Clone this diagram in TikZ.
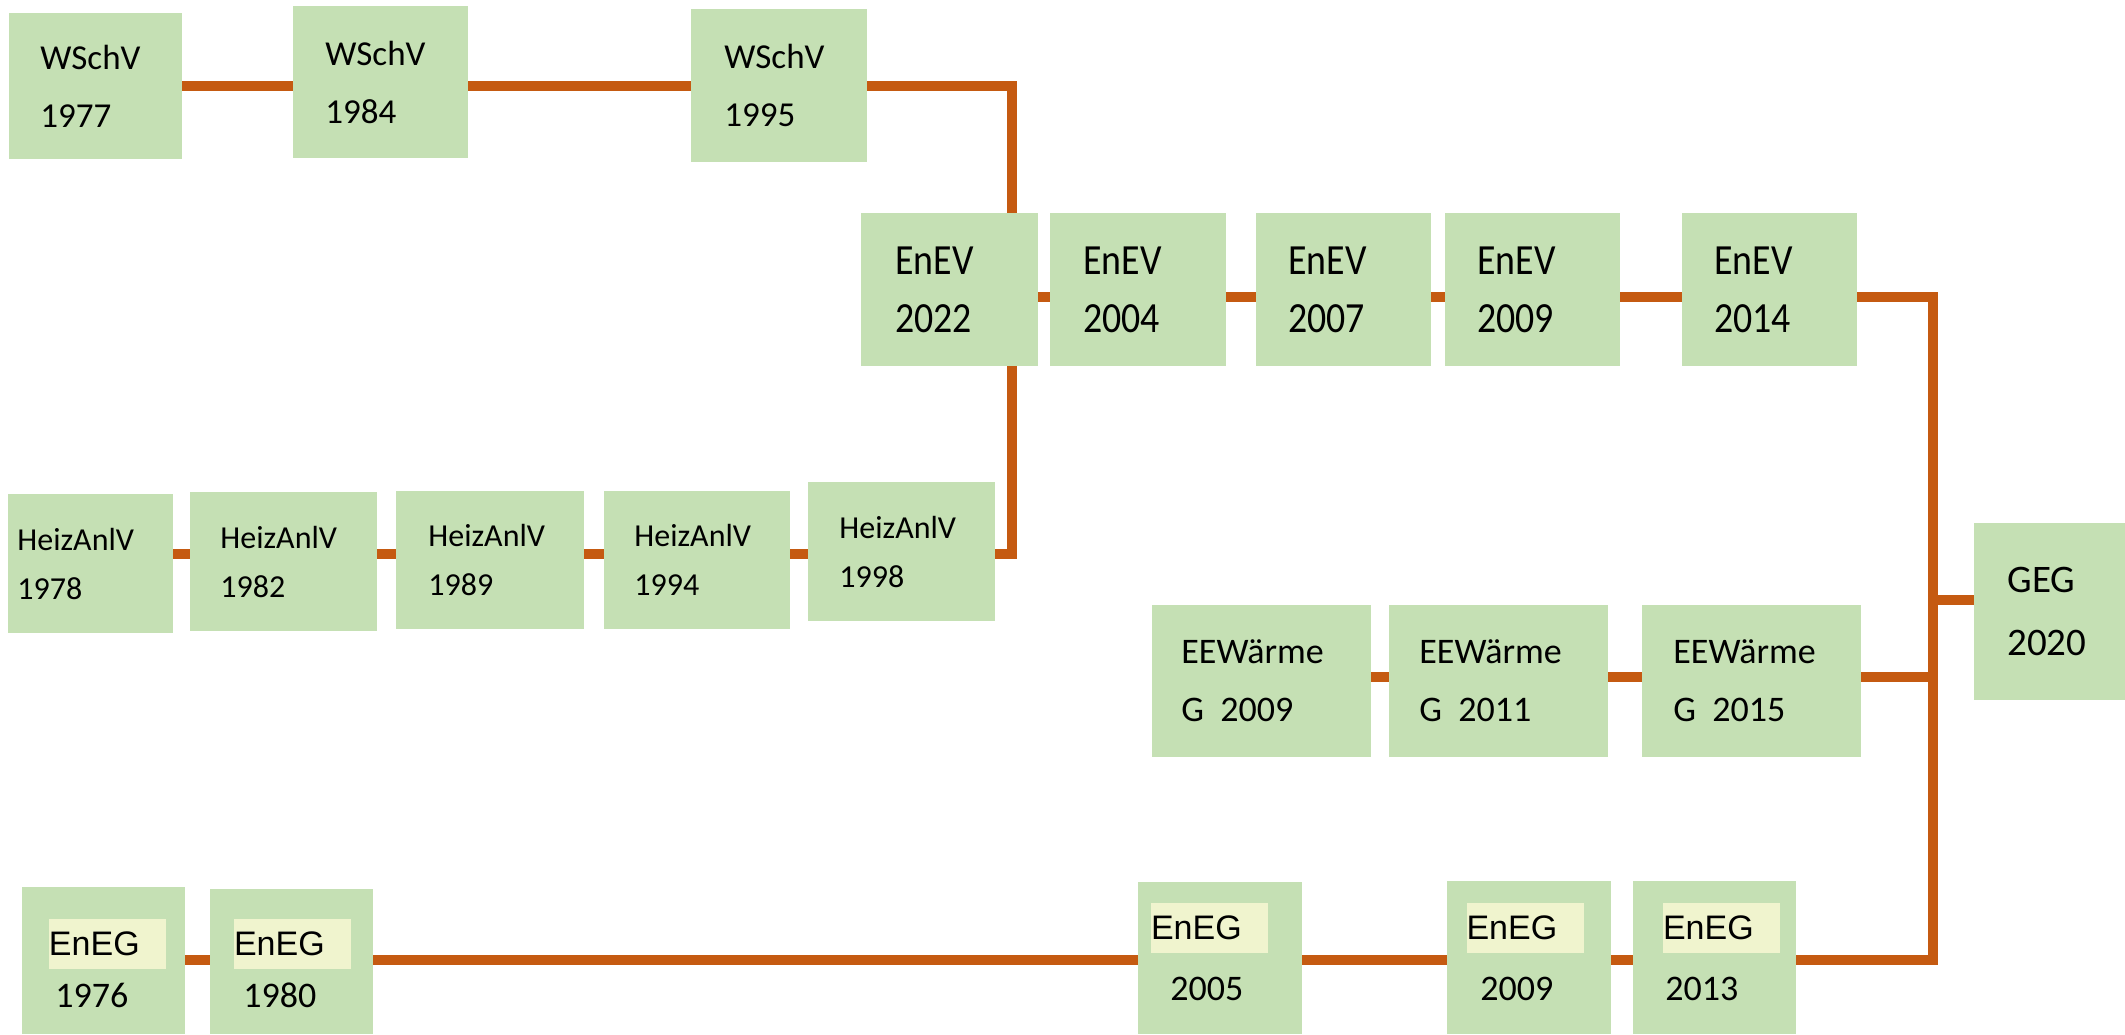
\documentclass[tikz,border=0pt]{standalone}
\usepackage{fontspec}
\setmainfont{Carlito}
\newfontfamily\arialf{Liberation Sans}
\newfontfamily\narrowf[FakeStretch=0.88]{Carlito}
\usetikzlibrary{calc}
\definecolor{boxgreen}{HTML}{C5E0B4}
\definecolor{linkor}{HTML}{C55A11}
\definecolor{hlyel}{HTML}{F0F4CE}
\pgfdeclarelayer{bg}
\pgfsetlayers{bg,main}
\tikzset{
  gbox/.style={draw=none, fill=boxgreen, inner sep=0, outer sep=0},
  link/.style={draw=linkor, line width=5bp, line join=miter},
  wt/.style={font=\fontsize{17.5bp}{29bp}\selectfont, align=left, inner sep=0},
  et/.style={font=\narrowf\fontsize{21.5bp}{29bp}\selectfont, align=left, inner sep=0},
  ht/.style={font=\fontsize{16bp}{24.5bp}\selectfont, align=left, inner sep=0},
  gt/.style={font=\fontsize{18bp}{29bp}\selectfont, align=left, inner sep=0},
  get/.style={font=\fontsize{19.5bp}{31.5bp}\selectfont, align=left, inner sep=0},
  hlbox/.style={fill=hlyel, inner xsep=0, inner ysep=0, text width=58.5bp, minimum height=25bp, align=left, font=\arialf\fontsize{17bp}{20bp}\selectfont},
  yt/.style={font=\fontsize{18bp}{20bp}\selectfont, inner sep=0, anchor=west}
}
% box: name, x1, y1, x2, y2
\newcommand\gbx[5]{\node[gbox, minimum width={(#4-#2)*0.5bp}, minimum height={(#5-#3)*0.5bp}] (#1) at ({(#2+#4)/2},{(#3+#5)/2}) {};}
% text: box name, style, inset, text
\newcommand\gtx[4]{\node[#2, anchor=west] (#1-t) at ([xshift={#3*0.5bp}]#1.west) {#4};}
% highlight: name, x1, y1, x2, y2
\newcommand\hlb[5]{\node[hlbox, minimum height={(#5-#3)*0.5bp}] (#1) at ({(#2+#4)/2},{(#3+#5)/2}) {EnEG};}
\begin{document}
\begin{tikzpicture}[x=0.5bp, y=-0.5bp]
\useasboundingbox (0,0) rectangle (2125,1034);
% row coordinates
\coordinate (r1) at (0,86);
\coordinate (r2) at (0,297);
\coordinate (r3) at (0,554);
\coordinate (rg) at (0,600);
\coordinate (r4) at (0,677);
\coordinate (r5) at (0,960);
\coordinate (jl) at (1012,554);
\coordinate (jrt) at (1933,297);
\coordinate (jrb) at (1933,960);
% WSchV
\gbx{w77}{9}{13}{182}{159}
\gbx{w84}{293}{6}{468}{158}
\gbx{w95}{691}{9}{867}{162}
\gtx{w77}{wt}{31}{WSchV\\1977}
\gtx{w84}{wt}{32}{WSchV\\1984}
\gtx{w95}{wt}{33}{WSchV\\1995}
% EnEV
\gbx{e22}{861}{213}{1038}{366}
\gbx{e04}{1050}{213}{1226}{366}
\gbx{e07}{1256}{213}{1431}{366}
\gbx{e09}{1445}{213}{1620}{366}
\gbx{e14}{1682}{213}{1857}{366}
\gtx{e22}{et}{34}{EnEV\\2022}
\gtx{e04}{et}{33}{EnEV\\2004}
\gtx{e07}{et}{32}{EnEV\\2007}
\gtx{e09}{et}{32}{EnEV\\2009}
\gtx{e14}{et}{32}{EnEV\\2014}
% HeizAnlV
\gbx{h78}{8}{494}{173}{633}
\gbx{h82}{190}{492}{377}{631}
\gbx{h89}{396}{491}{584}{629}
\gbx{h94}{604}{491}{790}{629}
\gbx{h98}{808}{482}{995}{621}
\gtx{h78}{ht}{9}{HeizAnlV\\1978}
\gtx{h82}{ht}{30}{HeizAnlV\\1982}
\gtx{h89}{ht}{32}{HeizAnlV\\1989}
\gtx{h94}{ht}{30}{HeizAnlV\\1994}
\gtx{h98}{ht}{31}{HeizAnlV\\1998}
% EEWaermeG
\gbx{g09}{1152}{605}{1371}{757}
\gbx{g11}{1389}{605}{1608}{757}
\gbx{g15}{1642}{605}{1861}{757}
\gtx{g09}{gt}{29}{EEWärme\\G\ \ 2009}
\gtx{g11}{gt}{30}{EEWärme\\G\ \ 2011}
\gtx{g15}{gt}{31}{EEWärme\\G\ \ 2015}
% GEG
\gbx{geg}{1974}{523}{2125}{700}
\gtx{geg}{get}{33}{GEG\\2020}
% EnEG
\gbx{n76}{22}{887}{185}{1034}
\gbx{n80}{210}{889}{373}{1034}
\gbx{n05}{1138}{882}{1302}{1034}
\gbx{n09}{1447}{881}{1611}{1034}
\gbx{n13}{1633}{881}{1796}{1034}
\hlb{n76-h}{49}{919}{166}{969}
\hlb{n80-h}{234}{919}{351}{969}
\hlb{n05-h}{1151}{903}{1268}{953}
\hlb{n09-h}{1467}{903}{1583}{953}
\hlb{n13-h}{1663}{903}{1780}{953}
\node[yt] (n76-y) at (55,995) {1976};
\node[yt] (n80-y) at (243,995) {1980};
\node[yt] (n05-y) at (1170,989) {2005};
\node[yt] (n09-y) at (1480,989) {2009};
\node[yt] (n13-y) at (1665,989) {2013};
% connectors
\begin{pgfonlayer}{bg}
\draw[link] (w77.east|-r1) -- (w84.west|-r1);
\draw[link] (w84.east|-r1) -- (w95.west|-r1);
\draw[link] (w95.east|-r1) -| (jl) -- (h98.east|-jl);
\draw[link] (h78.east|-r3) -- (h82.west|-r3);
\draw[link] (h82.east|-r3) -- (h89.west|-r3);
\draw[link] (h89.east|-r3) -- (h94.west|-r3);
\draw[link] (h94.east|-r3) -- (h98.west|-r3);
\draw[link] (e22.east|-r2) -- (e04.west|-r2);
\draw[link] (e04.east|-r2) -- (e07.west|-r2);
\draw[link] (e07.east|-r2) -- (e09.west|-r2);
\draw[link] (e09.east|-r2) -- (e14.west|-r2);
\draw[link] (e14.east|-r2) -- (jrt) -- (jrb) -- (n13.east|-jrb);
\draw[link] (jrt|-rg) -- (geg.west|-rg);
\draw[link] (g09.east|-r4) -- (g11.west|-r4);
\draw[link] (g11.east|-r4) -- (g15.west|-r4);
\draw[link] (g15.east|-r4) -- (jrt|-r4);
\draw[link] (n76.east|-r5) -- (n80.west|-r5);
\draw[link] (n80.east|-r5) -- (n05.west|-r5);
\draw[link] (n05.east|-r5) -- (n09.west|-r5);
\draw[link] (n09.east|-r5) -- (n13.west|-r5);
\end{pgfonlayer}
\end{tikzpicture}
\end{document}
